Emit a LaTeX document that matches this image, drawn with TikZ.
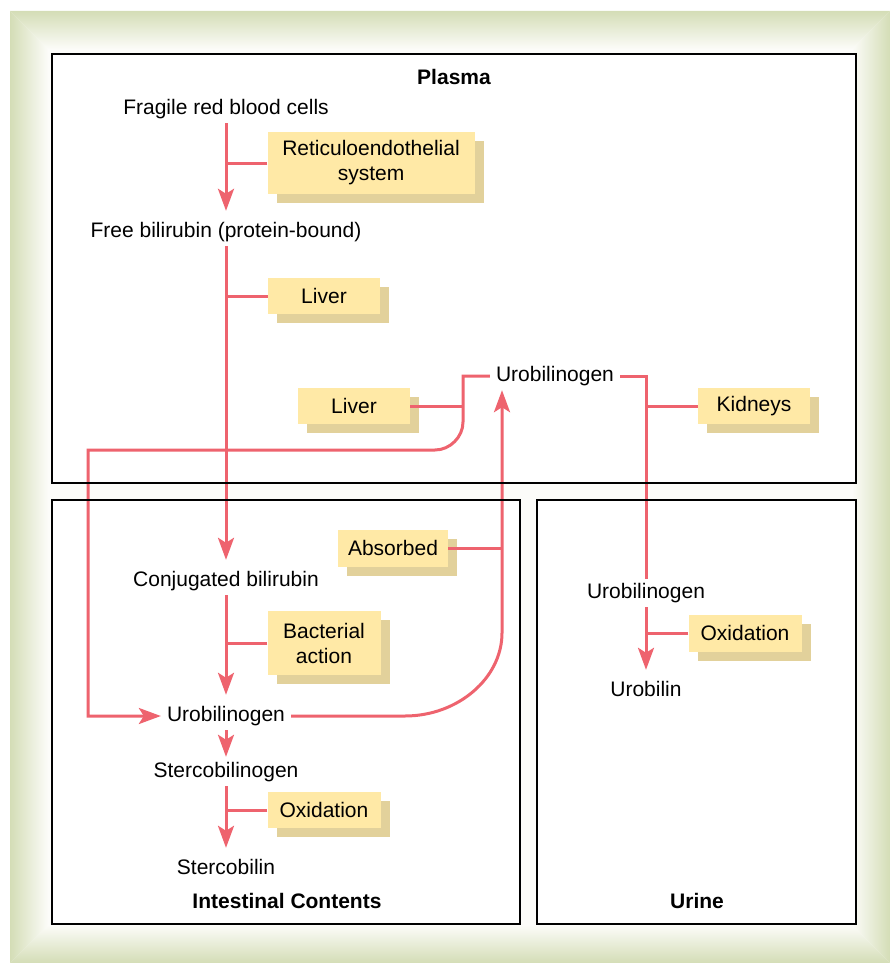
\documentclass[tikz,border=0pt]{standalone}
\usepackage{fontspec}
\setmainfont{Liberation Sans}
\usetikzlibrary{shadows,arrows.meta}
\definecolor{redl}{RGB}{238,99,110}
\definecolor{boxy}{RGB}{255,233,166}
\definecolor{shadowc}{RGB}{226,209,155}
\definecolor{frameg}{RGB}{212,221,182}
\definecolor{innerc}{RGB}{252,252,249}
\begin{document}
\begin{tikzpicture}[x=1pt,y=-1pt,
  every node/.style={font=\fontsize{21}{25}\selectfont},
  txt/.style={inner xsep=6pt, inner ysep=4pt, text height=15pt, text depth=5pt},
  ttl/.style={txt, font=\fontsize{21}{25}\selectfont\bfseries},
  lbl/.style={fill=boxy, inner sep=0pt, align=center, minimum width=112pt, minimum height=36pt,
    drop shadow={shadow xshift=9pt, shadow yshift=-9pt, fill=shadowc, opacity=1}},
  ln/.style={draw=redl, line width=3pt},
  arr/.style={ln, -{Stealth[length=22pt,width=16pt,inset=5pt]}, shorten >=7pt},
  panel/.style={draw=black, line width=2.5pt}]
\useasboundingbox (0,0) rectangle (890,963);
% frame
\fill[innerc] (10,11) rectangle (890,963);
\shade[top color=frameg, bottom color=innerc] (10,11) -- (890,11) -- (852,49) -- (48,49) -- cycle;
\shade[bottom color=frameg, top color=innerc] (10,963) -- (890,963) -- (852,925) -- (48,925) -- cycle;
\shade[left color=frameg, right color=innerc] (10,11) -- (48,49) -- (48,925) -- (10,963) -- cycle;
\shade[right color=frameg, left color=innerc] (890,11) -- (852,49) -- (852,925) -- (890,963) -- cycle;
% panels fill
\fill[white] (52,54) rectangle (856,483);
\fill[white] (52,500) rectangle (520,924);
\fill[white] (537,500) rectangle (856,924);
% titles
\node[ttl] (tplasma) at (454,80) {Plasma};
\node[ttl] (tint) at (287,903) {Intestinal Contents};
\node[ttl] (turine) at (697,903) {Urine};
% text nodes
\node[txt] (frbc) at (226,109) {Fragile red blood cells};
\node[txt] (frb) at (226,232) {Free bilirubin (protein-bound)};
\node[txt] (conj) at (226,581) {Conjugated bilirubin};
\node[txt] (urob) at (226,716) {Urobilinogen};
\node[txt] (sterco) at (226,772) {Stercobilinogen};
\node[txt] (stercob) at (226,869) {Stercobilin};
\node[txt] (uroP) at (555,376) {Urobilinogen};
\node[txt] (uroU) at (646,593) {Urobilinogen};
\node[txt] (urobilin) at (646,691) {Urobilin};
% label boxes
\node[lbl, minimum width=207pt, minimum height=62pt] (ret) at (371,163) {Reticuloendothelial\\system};
\node[lbl] (liv1) at (324,296) {Liver};
\node[lbl] (liv2) at (354,406) {Liver};
\node[lbl] (kid) at (754,406) {Kidneys};
\node[lbl, minimum width=110pt, minimum height=37pt] (abs) at (393,548) {Absorbed};
\node[lbl, minimum width=113pt, minimum height=64pt] (bac) at (324,643) {Bacterial\\action};
\node[lbl, minimum width=113pt] (ox1) at (324,810) {Oxidation};
\node[lbl, minimum width=113pt, minimum height=37pt] (ox2) at (745,633) {Oxidation};
% coordinates
\coordinate (jL) at (463,376);
\coordinate (jA) at (502,633);
% intestinal chain
\draw[arr] (frbc.south) -- (frb.north);
\draw[ln] (ret.west) -- (ret.west -| frbc.south);
\draw[arr] (frb.south) -- (conj.north);
\draw[ln] (liv1.west) -- (liv1.west -| frb.south);
\draw[arr] (conj.south) -- (urob.north);
\draw[ln] (bac.west) -- (bac.west -| conj.south);
\draw[arr, shorten >=1pt] (urob.south) -- (sterco.north);
\draw[arr] (sterco.south) -- (stercob.north);
\draw[ln] (ox1.west) -- (ox1.west -| sterco.south);
% urine
\draw[ln] (uroP.east) -| (uroU.north);
\draw[ln] (kid.west) -- (kid.west -| uroU.north);
\draw[arr] (uroU.south) -- (urobilin.north);
\draw[ln] (ox2.west) -- (ox2.west -| uroU.south);
% liver loop back to intestine
\draw[arr, shorten >=0pt] (uroP.west) -- (jL) -- (463,422) .. controls (463,437) and (450,450) .. (435,450) -- (88,450) |- (urob.west);
\draw[ln] (liv2.east) -- (liv2.east -| jL);
% absorbed
\draw[arr, shorten >=0pt] (urob.east) -- (405,716) .. controls (458,716) and (502,678) .. (jA) -- (jA |- uroP.south);
\draw[ln] (abs.east) -- (abs.east -| jA);
% panel borders
\draw[panel] (52,54) rectangle (856,483);
\draw[panel] (52,500) rectangle (520,924);
\draw[panel] (537,500) rectangle (856,924);
\end{tikzpicture}
\end{document}
